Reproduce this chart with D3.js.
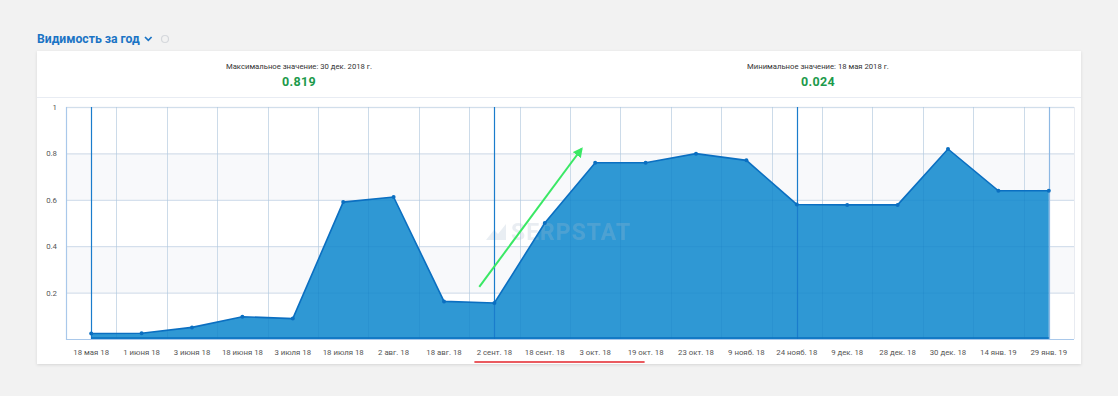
<!DOCTYPE html>
<html>
<head>
<meta charset="utf-8">
<script src="https://cdn.jsdelivr.net/npm/d3@7"></script>
<style>
  body { margin: 0; background: #f2f2f2; font-family: Roboto, "Noto Sans", sans-serif; }
  #chart { position: absolute; left: 0; top: 0; }
</style>
</head>
<body>
<div id="chart"></div>
<script>
const labels = ["18 мая 18", "1 июня 18", "3 июня 18", "18 июня 18", "3 июля 18", "18 июля 18",
  "2 авг. 18", "18 авг. 18", "2 сент. 18", "18 сент. 18", "3 окт. 18", "19 окт. 18", "23 окт. 18",
  "9 нояб. 18", "24 нояб. 18", "9 дек. 18", "28 дек. 18", "30 дек. 18", "14 янв. 19", "29 янв. 19"];
const values = [0.024, 0.025, 0.05, 0.096, 0.088, 0.59, 0.612, 0.162, 0.155, 0.5, 0.76, 0.76, 0.799,
  0.77, 0.58, 0.578, 0.578, 0.819, 0.639, 0.639];
const yTicks = [0.2, 0.4, 0.6, 0.8, 1];
const eventLabels = ["18 мая 18", "2 сент. 18", "24 нояб. 18", "29 янв. 19"];
const stats = [
  {title: "Максимальное значение: 30 дек. 2018 г.", value: "0.819"},
  {title: "Минимальное значение: 18 мая 2018 г.", value: "0.024"}
];

const w = 1118, h = 396;
const plotL = 66, plotR = 1074, plotT = 107, plotB = 339;

const svg = d3.select("#chart").append("svg")
  .attr("width", w).attr("height", h);

// title
svg.append("text")
  .attr("x", 37).attr("y", 42.5)
  .attr("font-size", 12.2).attr("font-weight", "bold")
  .attr("fill", "#1b74c5")
  .text("Видимость за год");
svg.append("path")
  .attr("d", "M145,37 l3.3,3.3 l3.3,-3.3")
  .attr("fill", "none").attr("stroke", "#1b74c5").attr("stroke-width", 1.7);
svg.append("circle").attr("cx", 165).attr("cy", 39).attr("r", 3.5)
  .attr("fill", "none").attr("stroke", "#d5d8dc").attr("stroke-width", 1.2);

// card
const defs = svg.append("defs");
const f = defs.append("filter").attr("id", "sh").attr("x", "-5%").attr("y", "-5%").attr("width", "110%").attr("height", "115%");
f.append("feDropShadow").attr("dx", 0).attr("dy", 1).attr("stdDeviation", 1.5).attr("flood-color", "#000").attr("flood-opacity", 0.12);
svg.append("rect").attr("x", 37).attr("y", 51).attr("width", 1044).attr("height", 313)
  .attr("fill", "#fff").attr("filter", "url(#sh)");
svg.append("line").attr("x1", 37).attr("x2", 1081).attr("y1", 97.5).attr("y2", 97.5)
  .attr("stroke", "#e8ecf3");

// stats
const statX = [299, 818];
stats.forEach((s, i) => {
  svg.append("text").attr("x", statX[i]).attr("y", 69).attr("text-anchor", "middle")
    .attr("font-size", 7.7).attr("fill", "#333").text(s.title);
  svg.append("text").attr("x", statX[i]).attr("y", 86).attr("text-anchor", "middle")
    .attr("font-size", 12.5).attr("font-weight", "bold").attr("fill", "#1c9a4b")
    .attr("letter-spacing", 0.3).text(s.value);
});

const x = d3.scalePoint().domain(labels).range([plotL, plotR]).padding(0.5);
const y = d3.scaleLinear().domain([0, 1]).range([plotB, plotT]);
const step = x.step();

// alternating bands
[[0.6, 0.8], [0.2, 0.4]].forEach(b => {
  svg.append("rect").attr("x", plotL).attr("width", plotR - plotL)
    .attr("y", y(b[1])).attr("height", y(b[0]) - y(b[1]))
    .attr("fill", "#f8f9fb");
});

// horizontal grid
svg.append("g").selectAll("line").data(yTicks).join("line")
  .attr("x1", plotL).attr("x2", plotR)
  .attr("y1", d => y(d) + 0.5).attr("y2", d => y(d) + 0.5)
  .attr("stroke", "#e8ebf1").attr("stroke-width", 1.3);

// vertical grid
const vgrid = labels.map(d => x(d) + step / 2);
svg.append("g").selectAll("line").data(vgrid).join("line")
  .attr("x1", d => Math.round(d) + 0.5).attr("x2", d => Math.round(d) + 0.5)
  .attr("y1", plotT).attr("y2", plotB)
  .attr("stroke", "#e8ebf1").attr("stroke-width", 1);

// area
const data = labels.map((d, i) => ({label: d, value: values[i]}));
const area = d3.area().x(d => x(d.label)).y0(y(0)).y1(d => y(d.value));
const line = d3.line().x(d => x(d.label)).y(d => y(d.value));
svg.append("path").datum(data).attr("d", area).attr("fill", "#2f98d4");

// grid lines faintly over the fill
svg.append("g").selectAll("line").data(vgrid.slice(0, -1)).join("line")
  .attr("x1", d => Math.round(d) + 0.5).attr("x2", d => Math.round(d) + 0.5)
  .attr("y1", plotT).attr("y2", plotB)
  .attr("stroke", "#0a6fb8").attr("stroke-opacity", 0.12);
svg.append("g").selectAll("line").data(yTicks).join("line")
  .attr("x1", plotL).attr("x2", plotR)
  .attr("y1", d => y(d) + 0.5).attr("y2", d => y(d) + 0.5)
  .attr("stroke", "#0a6fb8").attr("stroke-opacity", 0.1);

// watermark
const wm = svg.append("g").attr("opacity", 0.25);
wm.append("path").attr("d", "M486,240 l8,-10 l4,4 l8,-10 l0,16 z").attr("fill", "#a9bccf");
wm.append("text").attr("x", 511).attr("y", 240)
  .attr("font-size", 23).attr("font-weight", "bold").attr("fill", "#a9bccf")
  .attr("letter-spacing", 1).text("SERPSTAT");

// event lines
svg.append("g").selectAll("line").data(eventLabels).join("line")
  .attr("x1", d => Math.round(x(d)) + 0.5).attr("x2", d => Math.round(x(d)) + 0.5)
  .attr("y1", plotT).attr("y2", plotB)
  .attr("stroke", (d, i) => i === eventLabels.length - 1 ? "#8db8e3" : "#1a7ccc")
  .attr("stroke-width", 1.2);

// series line + markers
svg.append("path").datum(data).attr("d", line)
  .attr("fill", "none").attr("stroke", "#0b6fc1").attr("stroke-width", 1.6);
svg.append("line").attr("x1", x(labels[0])).attr("x2", x(labels[labels.length - 1]))
  .attr("y1", y(0) - 1).attr("y2", y(0) - 1).attr("stroke", "#0b6fc1").attr("stroke-width", 1.6);
svg.append("g").selectAll("circle").data(data).join("circle")
  .attr("cx", d => x(d.label)).attr("cy", d => y(d.value)).attr("r", 2)
  .attr("fill", "#0b6fc1");

// axes lines
svg.append("line").attr("x1", plotL + 0.5).attr("x2", plotL + 0.5).attr("y1", plotT).attr("y2", plotB + 1)
  .attr("stroke", "#a9c8ea").attr("stroke-width", 1.2);
svg.append("line").attr("x1", plotL).attr("x2", plotR).attr("y1", plotB + 0.5).attr("y2", plotB + 0.5)
  .attr("stroke", "#a9c8ea").attr("stroke-width", 1.2);

// y labels
svg.append("g").selectAll("text").data(yTicks).join("text")
  .attr("x", 57).attr("y", d => y(d) + 3)
  .attr("text-anchor", "end").attr("font-size", 7.8).attr("fill", "#555")
  .text(d => d3.format("~g")(d));

// x labels
svg.append("g").selectAll("text").data(labels).join("text")
  .attr("x", d => x(d)).attr("y", 355)
  .attr("text-anchor", "middle").attr("font-size", 7.8).attr("fill", "#555")
  .text(d => d);

// green arrow annotation
const a0 = {x: x(labels[7]) + 0.7 * step, y: y(0.225)};
const a1 = {x: x(labels[9]) + 0.73 * step, y: y(0.82)};
defs.append("marker").attr("id", "ah").attr("viewBox", "0 0 10 10").attr("refX", 8).attr("refY", 5)
  .attr("markerWidth", 5).attr("markerHeight", 5).attr("orient", "auto")
  .append("path").attr("d", "M0,0 L10,5 L0,10 z").attr("fill", "#3ae865");
svg.append("line").attr("x1", a0.x).attr("y1", a0.y).attr("x2", a1.x).attr("y2", a1.y)
  .attr("stroke", "#3ae865").attr("stroke-width", 2).attr("marker-end", "url(#ah)");

// red underline
svg.append("line").attr("x1", x(labels[8]) - 20).attr("x2", x(labels[11]) - 1)
  .attr("y1", 362).attr("y2", 362).attr("stroke", "#e3242b").attr("stroke-width", 1.3);
</script>
</body>
</html>
